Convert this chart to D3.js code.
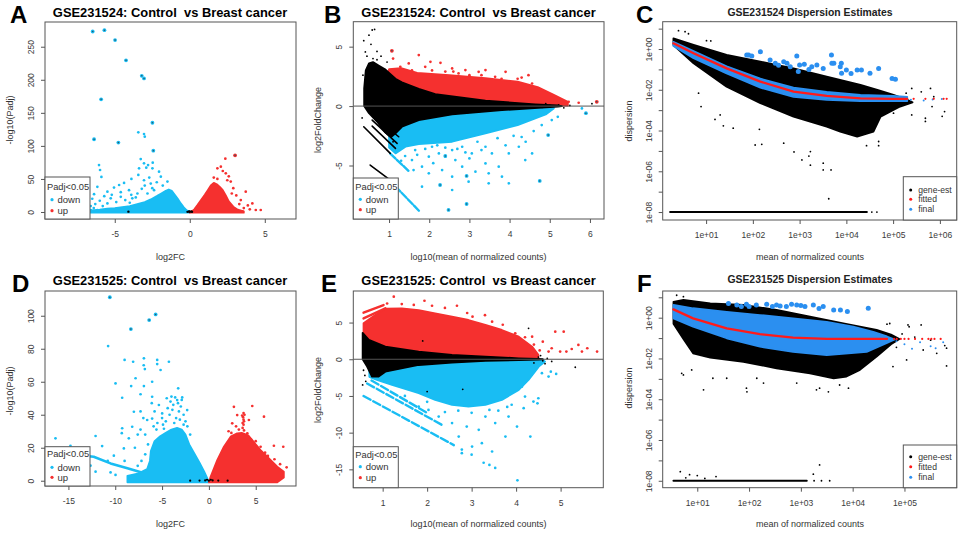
<!DOCTYPE html>
<html>
<head>
<meta charset="utf-8">
<script src="https://cdn.jsdelivr.net/npm/d3@7"></script>
<style>
  body { margin: 0; background: #fff; }
  svg text { font-family: "Liberation Sans", Arial, sans-serif; }
</style>
</head>
<body>
<div id="fig"></div>
<script>
// ---- A: volcano GSE231524 (log2FC, -log10 Padj) ----
var aDownCloud = [[-6.6,-1],[-6.6,2.5],[-6,3.5],[-5.5,5],[-5,6],[-4.5,7.5],[-4,9],[-3.5,12],[-3,15],[-2.6,19],[-2.2,24],[-1.9,28],[-1.6,32],[-1.4,34],[-1.2,32],[-1.0,26],[-0.8,20],[-0.6,13],[-0.4,7],[-0.2,2.5],[0,0.5],[0,-1]];
var aUpCloud = [[0,-1],[0.1,0.5],[0.3,4],[0.5,10],[0.75,18],[1.0,26],[1.2,33],[1.4,40],[1.6,44],[1.8,42],[2.0,38],[2.2,33],[2.4,25],[2.6,16],[2.9,8],[3.2,3.5],[3.6,1],[3.6,-1]];
var aDownPts = [[-6.05,71],[-5.98,63.5],[-3.27,80],[-3.05,73.6],[-2.78,71],[-2.47,74.6],[-3.38,66],[-2.9,67],[-2.49,66],[-3.43,56],[-2.05,61],[-3.05,48],[-1.93,53.4],[-1.49,46],[-3.89,50],[-4.38,44],[-6.16,38],[-5.89,53],[-6.38,27],[-5.49,30.7],[-5.05,37],[-4.71,40.8],[-4.05,33],[-5.49,13],[-5.27,20.7],[-6.16,3],[-6.6,3],[-4.6,23],[-3.83,20.7],[-3.49,28],[-2.6,43],[-2.38,33],[-2.82,28],[-6.5,20],[-6.3,12],[-5.8,9],[-6.0,17],[-5.2,26],[-4.9,15],[-4.3,18],[-4.0,14],[-3.6,22],[-3.2,35],[-3.0,40],[-2.7,52],[-2.2,45],[-1.8,40],[-4.6,30],[-5.7,24],[-3.9,26],[-2.5,36],[-6.6,9],[-6.4,6],[-3.43,120.5],[-3.05,118],[-3.0,114]];
var aDownTop = [[-6.47,273],[-5.69,275],[-4.98,260],[-4.25,229.5],[-3.2,206],[-3.05,202],[-5.91,170.5],[-2.49,135],[-6.38,110],[-4.76,105],[-2.43,92.7]];
var aUpPts = [[2.37,80.7],[2.07,68.5],[1.84,66],[2.4,58.5],[2.6,54],[1.84,50],[2.73,46],[3.73,30.7],[4.17,13],[4.73,3],[3.87,10],[3.5,1],[2.9,36],[2.5,48],[3.1,25],[3.4,18],[3.6,6],[4.0,4],[2.2,62],[1.6,52],[3.3,12],[2.8,28],[4.4,3]];
var aUpTop = [[3.02,85.7]];
var aNsPts = [[0,0.3],[-0.15,0.2],[0.15,0.2],[-0.05,0.8],[0.1,0.9],[-4.09,0.5]];
var aXTicks = [-5, 0, 5];
var aYTicks = [0, 50, 100, 150, 200, 250];

// ---- B: MA plot GSE231524 (log10 mean counts, log2FoldChange) ----
var bUpCloud = [[0.98,2.9],[1.0,3.1],[1.3,3.2],[1.7,2.8],[2.5,2.6],[3.4,2.35],[4.2,2.05],[4.7,1.6],[5.1,0.95],[5.45,0.35],[5.45,0.05],[1.0,0.05]];
var bDownCloud = [[1.0,-0.05],[5.1,-0.05],[5.1,-0.2],[4.9,-0.7],[4.2,-1.6],[3.4,-2.3],[2.57,-3.0],[1.74,-3.2],[1.41,-3.42],[1.16,-3.98],[1.0,-3.5]];
var bNsCloud = [[0.38,1.5],[0.42,3.0],[0.5,3.6],[0.6,3.7],[0.75,3.4],[0.9,3.1],[1.0,2.8],[1.16,2.3],[1.32,2.0],[1.74,1.45],[2.15,1.0],[3.4,0.45],[4.64,0.15],[5.2,0.05],[5.3,0],[5.2,-0.05],[4.81,-0.12],[3.81,-0.34],[2.57,-0.7],[1.74,-1.18],[1.32,-1.74],[1.16,-2.3],[1.05,-2.6],[0.9,-2.2],[0.7,-1.3],[0.5,-0.6],[0.38,0]];
var bNsStripes = [[[0.58,-0.76],[1.24,-2.58]],[[0.58,-1.18],[1.2,-3.14]],[[0.58,-1.68],[1.16,-3.56]],[[0.37,-1.74],[1.03,-3.98]],[[0.53,-4.96],[0.98,-6.1]]];
var bDownStripes = [[[1.03,-4.0],[1.5,-5.5]],[[1.0,-6.2],[1.77,-8.9]]];
var bDownPts = [[1.57,-4.54],[1.82,-5.1],[1.65,-3.7],[2.07,-3.42],[2.24,-3.98],[2.4,-4.26],[2.57,-3.7],[2.82,-3.42],[3.06,-3.98],[3.4,-3.42],[3.56,-3.98],[3.98,-3.98],[4.23,-3.42],[4.56,-3.98],[5.05,-1.18],[5.8,-0.2],[1.61,-5.38],[1.99,-5.66],[1.82,-6.78],[2.57,-5.94],[2.82,-5.1],[3.15,-5.52],[3.48,-5.66],[2.98,-6.36],[2.57,-7.06],[3.73,-5.1],[3.81,-5.94],[3.48,-6.5],[3.98,-6.5],[3.4,-4.82],[4.39,-4.54],[1.99,-4.26],[2.65,-4.54],[2.32,-5.38],[1.4,-4.2],[1.9,-3.6],[2.2,-3.3],[3.2,-3.0],[3.7,-2.7],[4.1,-2.5],[4.6,-2.1],[4.4,-3.0],[4.8,-1.6],[5.2,-0.9],[3.0,-4.4],[2.7,-3.6],[1.3,-4.6],[1.7,-4.1],[2.1,-4.8],[2.9,-3.9],[3.3,-3.7],[3.9,-3.3],[4.3,-2.6],[2.4,-3.5]];
var bDownTop = [[2.27,-6.64],[2.93,-8.24],[2.48,-8.74],[4.75,-6.3],[4.96,-2.44],[2.93,-5.88],[2.4,-4.2],[5.9,-0.6]];
var bUpPts = [[1.74,4.29],[2.03,3.72],[2.28,3.64],[2.57,3.17],[2.9,3.03],[3.23,2.88],[3.4,3.03],[3.9,2.88],[4.47,2.6],[1.49,3.59],[1.28,3.3],[2.73,2.75],[3.64,2.46],[4.56,1.9],[5.05,0.92],[5.22,0.64],[5.47,0.36],[5.72,0.28],[2.07,3.0],[1.57,3.0],[2.4,2.9],[3.0,2.6],[3.8,2.3],[4.2,2.3],[4.8,1.3],[1.1,4.0],[1.9,3.3],[2.6,2.9],[3.3,2.6],[4.3,2.4]];
var bUpTop = [[1.07,4.65],[6.17,0.36]];
var bNsPts = [[0.58,6.4],[0.64,6.45],[0.5,5.97],[0.37,5.5],[0.41,4.56],[0.55,5.2],[0.45,4.2],[0.7,4.6],[0.8,4.2],[0.6,4.0],[0.95,3.7],[0.7,3.9],[4.81,-0.1],[5.22,0.1],[5.0,0.05],[5.5,0.05],[4.9,0.2],[5.35,-0.15],[6.05,0.2],[0.35,2.6],[0.33,-1.0],[1.1,-3.0]];
var bXTicks = [1, 2, 3, 4, 5, 6];
var bYTicks = [-5, 0, 5];

// ---- C: dispersion GSE231524 (mean counts, dispersion) ----
var cGeneCloud = [[2.0,3.3],[5.4,1.58],[27.5,0.51],[145,0.24],[741,0.112],[3.8e3,0.044],[2.0e4,0.0174],[4.6e4,0.01],[1.02e5,5.6e-3],[2.0e5,3.2e-3],[2.6e5,2.4e-3],[1.41e5,1.5e-3],[5.4e4,4.8e-4],[3.8e4,8.9e-5],[1.7e4,5.0e-5],[7.4e3,8.9e-5],[3.8e3,1.55e-4],[741,4.8e-4],[145,2.2e-3],[27.5,0.014],[5.4,0.2],[2.0,1.58]];
var cGenePts = [[6.9,6.8e-3],[7.8,1.5e-3],[15.5,3.5e-4],[20,5.8e-4],[23.4,1.7e-4],[38,1.3e-4],[112,1.95e-5],[138,1.15e-4],[155,2.1e-5],[457,2.4e-5],[759,8.9e-6],[1.12e3,3.6e-6],[1.7e3,9.3e-6],[1.58e3,5.6e-6],[1.7e3,2.0e-6],[3.2e3,2.5e-6],[3.2e3,1.17e-6],[4.7e3,1.17e-6],[4.2e3,4.5e-8],[2.57,7.9],[3.55,7.1],[4.2,5.6],[10.2,2.57],[12.6,2.5],[2.5e5,0.0117],[6.3e5,0.0117],[7.4e5,4.6e-3],[6.8e5,1.5e-3],[2.5e5,5.8e-4],[4.9e5,4.0e-4],[4.9e5,2.8e-4],[1.26e6,8.5e-4],[1.12e6,5e-4],[1.02e5,7.1e-4],[4.9e4,2.9e-5],[4.9e4,1.8e-5],[2.7e4,1.8e-5],[9.5e4,1.0e-3],[1.8e5,3.2e-3],[1.9e5,6.8e-3],[4e5,7.9e-3]];
var cFinalBand = [[2.0,2.24],[5.4,0.79],[27.5,0.141],[145,0.035],[741,0.0126],[3.8e3,7.9e-3],[2.0e4,5.6e-3],[1.0e5,5.0e-3],[2.0e5,4.5e-3],[2.0e5,2.8e-3],[2.0e4,2.8e-3],[3.8e3,3.2e-3],[741,4.5e-3],[145,0.0126],[27.5,0.063],[5.4,0.355],[2.0,1.41]];
var cFinalOut = [[81,0.51],[145,0.74],[95,0.45],[234,0.29],[302,0.2],[457,0.24],[871,0.46],[1.0e3,0.166],[1.26e3,0.178],[1.82e3,0.135],[2.34e3,0.166],[4.8e3,0.51],[5.4e3,0.2],[7.4e3,0.135],[7.9e3,0.065],[1.0e4,0.093],[1.7e4,0.093],[2.1e4,0.093],[3.2e4,0.065],[4.9e4,0.112],[9.5e4,0.036],[1.12e5,0.033],[631,0.135],[3.2e3,0.112],[355,0.158],[1.58e3,0.1],[1.26e4,0.063],[74,0.51],[537,0.2],[938,0.078],[4.9e3,0.2],[7.8e3,0.2]];
var cFinalSmall = [[2.4e5,3.2e-3],[4.5e5,3.0e-3],[7.0e5,3.3e-3],[1.1e6,3.5e-3],[1.6e5,4.2e-3]];
var cFitted = [[2.0,1.9],[5.4,0.62],[27.5,0.112],[145,0.025],[741,8.1e-3],[3.8e3,5.0e-3],[2.0e4,3.8e-3],[1.02e5,3.6e-3],[2.0e5,3.6e-3]];
var cFittedDots = [[2.75e5,3.6e-3],[4.9e5,3.6e-3],[7.4e5,3.6e-3],[1.2e6,3.6e-3],[1.4e6,3.6e-3]];
var cZeroRow = [[1.7,1e-8],[2.75e4,1e-8]];
var cZeroPts = [[3.5e4,1e-8],[4.5e4,1e-8]];

// ---- D: volcano GSE231525 ----
var dDownCloud = [[-8.7,-1],[-8.7,3],[-7.5,4.5],[-6.6,7],[-6.3,12],[-6.2,18],[-5.8,24],[-5.2,27],[-4.6,29],[-4.0,31],[-3.4,32],[-2.9,31],[-2.5,28],[-2.1,22],[-1.6,17],[-1.0,11],[-0.5,5.5],[-0.18,1.6],[0,-1]];
var dDownTail = [[-16.5,17],[-14,15.5],[-12.3,14.5],[-10.5,10.5],[-8.7,7.5],[-6.9,4.5],[-6,3]];
var dDownPts = [[-16.38,25.7],[-14.78,21.2],[-12.1,27.1],[-11.4,21],[-10.15,15.2],[-9.97,3.5],[-12.1,5.5],[-12.64,9.1],[-9.26,31.8],[-9.3,28.8],[-9.08,19.6],[-9.97,59],[-10.76,81.6],[-9.0,73.2],[-8.09,72.1],[-6.94,74.2],[-6.96,70],[-6.84,67.7],[-5.52,73.2],[-5.52,70.7],[-4.27,72.1],[-5.16,67.1],[-7.83,62.1],[-6.94,57.4],[-6.06,60],[-8.3,57.4],[-9.26,50.3],[-7.3,52.4],[-6.06,50.9],[-6.1,47],[-8.01,41.8],[-7.3,42],[-3.28,56],[-3.39,48.9],[-2.85,50.5],[-2.32,42.8],[-8.55,25.7],[-8.19,32.7],[-7.3,31],[-6.59,36.8],[-6.06,37.7],[-5.34,45.9],[-4.99,40.8],[-4.5,50],[-4.0,51],[-3.8,46],[-5.8,42],[-7.0,38],[-7.6,28],[-6.8,28],[-7.9,20],[-10.8,12],[-10.5,5],[-9.0,12],[-5.9,33],[-5.5,35],[-5.0,38],[-4.6,36],[-4.2,40],[-3.9,43],[-3.5,38],[-3.2,42],[-3.0,45],[-2.7,40],[-2.5,36],[-4.8,31.5],[-3.7,35],[-4.4,44],[-3.3,47],[-2.9,49],[-4.1,48],[-5.6,31],[-2.3,33],[-2.0,28],[-6.5,22],[-6.8,16],[-7.2,12],[-7.6,9],[-3.6,50.5],[-2.7,34],[-4.9,34],[-3.1,37]];
var dDownTop = [[-10.58,111.2],[-8.33,91.9],[-6.38,97.4],[-5.69,100.8]];
var dUpCloud = [[0,-1],[0.18,2.4],[0.89,12.5],[1.6,20.6],[2.32,26.7],[3.02,28.7],[3.5,29],[4.2,27.5],[5.0,22],[5.52,18.6],[6.6,12.5],[7.3,8.5],[8.0,5.5],[8.0,2],[7.3,-1]];
var dUpPts = [[3.7,41],[3.65,38.5],[3.75,36],[3.7,34],[3.6,32],[3.75,30.5],[3.55,39.5],[3.8,40],[3.7,37],[3.6,35],[2.67,44.8],[4.63,45.3],[5.88,38.8],[3.02,39.8],[2.49,34.8],[2.1,30],[6.94,21.2],[7.94,20.6],[8.3,8.1],[5.52,20.6],[6.0,17],[4.27,36.8],[4.1,28.7],[2.9,33],[4.5,25],[6.3,15],[7.0,13],[7.6,10],[3.2,31],[2.4,29],[5.0,24]];
var dNsPts = [[0,0],[-0.4,0.2],[0.4,0.2],[-1,0.1],[1,0.1],[-2,0],[2,0],[-0.2,0.6],[0.2,0.6]];
var dXTicks = [-15, -10, -5, 0, 5];
var dYTicks = [0, 20, 40, 60, 80, 100];

// ---- E: MA plot GSE231525 ----
var eUpCloud = [[0.57,0],[0.57,4.9],[0.8,5.9],[1.06,6.9],[1.43,6.94],[1.81,6.7],[2.18,6.26],[2.56,5.8],[2.93,5.35],[3.31,4.67],[3.68,3.99],[4.06,3.08],[4.36,1.72],[4.5,0.6],[4.5,0]];
var eDownCloud = [[0.7,-0.05],[4.6,-0.05],[4.65,-0.32],[4.51,-1.0],[4.28,-2.82],[4.06,-4.18],[3.68,-5.54],[3.31,-6.22],[2.93,-6.45],[2.56,-6.22],[2.18,-5.54],[1.81,-4.63],[1.21,-3.5],[0.87,-2.82],[0.7,-2.4]];
var eNsCloud = [[0.55,3.6],[0.69,2.63],[1.06,1.72],[1.81,1.04],[2.56,0.59],[3.31,0.36],[4.06,0.13],[4.5,0.05],[4.6,0],[4.5,-0.05],[4.06,-0.1],[3.31,-0.23],[2.56,-0.46],[1.81,-0.78],[1.06,-1.69],[0.91,-2.36],[0.76,-2.36],[0.65,-1.0],[0.55,0]];
var eUpStripes = [[[0.57,6.34],[1.02,7.39]],[[0.57,5.57],[1.06,6.94]]];
var eDownStripes = [[[0.57,-5.0],[2.6,-11.7]],[[0.65,-3.3],[2.35,-9.0]],[[0.75,-2.9],[2.0,-7.3]]];
var eUpPts = [[1.25,8.52],[1.94,7.97],[2.11,7.29],[2.67,7.29],[1.43,7.52],[3.02,5.8],[3.46,5.12],[3.98,3.54],[4.36,3.08],[4.88,3.76],[5.07,3.76],[4.8,1.5],[4.99,1.04],[5.4,1.95],[5.48,1.04],[5.82,1.04],[5.13,1.04],[4.73,1.04],[4.53,1.2],[5.6,1.5],[1.1,7.6],[2.4,7.0],[3.3,6.0],[3.7,4.7],[4.2,3.0],[4.6,2.4],[1.7,7.4],[2.9,6.3],[4.4,2.0],[5.25,1.4]];
var eDownPts = [[4.02,-2.82],[4.13,-3.73],[4.2,-5.09],[4.17,-6.67],[4.39,-5.77],[4.5,-5.31],[4.48,-6.0],[4.58,-1.9],[4.73,-2.36],[4.78,-1.69],[4.32,-10.53],[4.02,-9.17],[3.76,-10.53],[3.23,-11.43],[3.01,-11.89],[2.78,-12.79],[3.46,-12.57],[4.03,-16.5],[3.31,-7.81],[3.53,-8.7],[3.83,-7.81],[3.16,-9.62],[2.89,-9.17],[2.71,-10.53],[2.56,-8.7],[2.26,-7.81],[2.03,-6.9],[1.81,-6.45],[3.0,-7.3],[3.6,-7.0],[2.4,-7.2],[3.9,-6.2],[4.9,-2.0],[1.5,-5.0],[2.0,-5.8],[2.7,-7.0],[3.4,-6.9],[3.8,-6.5],[2.78,-12.3],[3.0,-13.0],[3.27,-14.1],[3.4,-14.4],[3.53,-14.8]];
var eNsPts = [[5.33,-1.09],[4.28,4.22],[4.5,0.3],[4.6,-0.2],[4.7,0.1],[4.8,-0.3],[4.4,-0.5],[0.57,-1.5],[0.6,-2.2],[0.62,-3.0],[2.0,-4.4],[2.8,-4.1],[1.9,2.5],[4.55,0.5],[4.65,-0.6],[0.55,-3.5]];
var eXTicks = [1, 2, 3, 4, 5];
var eYTicks = [-15, -10, -5, 0, 5];

// ---- F: dispersion GSE231525 ----
var fGeneCloud = [[3.47,6.0],[5.4,7.4],[17.8,5.0],[78,4.2],[339,2.4],[1.5e3,1.12],[6.6e3,0.52],[1.38e4,0.36],[2.9e4,0.25],[5.5e4,0.15],[8.0e4,0.09],[5.5e4,0.05],[2.9e4,0.0123],[1.38e4,2.75e-3],[7.6e3,1.3e-3],[4.3e3,1.07e-3],[1.5e3,1.86e-3],[339,3.3e-3],[78,6.9e-3],[17.8,0.011],[8.3,0.018],[5.4,0.09],[3.47,0.5]];
var fGenePts = [[5.4,10.7],[5.4,1.55e-3],[7.8,2.75e-3],[20,1.07e-3],[37,1.07e-3],[141,1.07e-3],[190,6.2e-4],[89,3.5e-4],[91,2.3e-4],[832,6.2e-4],[2.0e3,2.9e-4],[5.6e3,5.0e-4],[8.3e3,3.5e-4],[6.0e4,4.0e-3],[1.1e5,8.5e-3],[2.3e5,0.026],[4.2e5,0.0178],[6.5e5,4.3e-3],[6.0e5,0.043],[1.17e5,0.44],[2.1e5,0.44],[5.2e4,0.52],[13.2,2.9e-4],[5.0,1.86e-3],[2.3e3,3.5e-4],[3.4e3,2.3e-4],[4.6e4,0.48],[1.23e5,0.36],[6.5e5,0.032],[3.2e5,0.079],[1.58e5,0.112],[4.0,12.6],[9.0e4,0.16],[7.0e4,0.035]];
var fFinalBand = [[3.47,4.2],[8.3,2.9],[37,1.95],[162,1.35],[708,0.93],[3.16e3,0.63],[1.02e4,0.36],[2.5e4,0.2],[4.6e4,0.12],[6.5e4,0.085],[4.6e4,0.058],[1.86e4,0.021],[3.16e3,0.0148],[708,0.021],[162,0.038],[37,0.098],[8.3,0.36],[3.47,0.93]];
var fFinalOut = [[40,5.0],[58,4.2],[89,4.6],[138,4.2],[219,4.6],[339,4.2],[525,3.5],[832,4.2],[1.2e3,3.5],[1.74e3,4.2],[2.7e3,3.5],[4.3e3,2.4],[5.8e3,2.4],[2e4,2.9],[100,3.55],[282,3.55],[398,3.8],[1e3,4.0],[2.24e3,2.8],[7.9e3,2.0],[71,3.55],[661,4.6]];
var fFinalSmall = [[1e5,0.05],[2e5,0.063],[3.2e5,0.04],[4e5,0.032],[5.6e5,0.063],[7e4,0.07],[1.4e5,0.03]];
var fFitted = [[3.47,2.57],[8.3,0.93],[37,0.30],[162,0.155],[708,0.105],[3.16e3,0.091],[1.38e4,0.091],[4.6e4,0.091]];
var fFittedDots = [[6.3e4,0.091],[7.1e4,0.091],[8.5e4,0.091],[1.0e5,0.091],[1.2e5,0.091],[1.6e5,0.091],[2.2e5,0.091],[2.9e5,0.091],[3.3e5,0.091],[3.8e5,0.091],[5.0e5,0.091]];
var fZeroRow = [[3.47,1e-8],[1.3e3,1e-8]];
var fZeroPts = [[1.8e3,1e-8],[2.5e3,1e-8],[3.6e3,1e-8],[4.7,2.8e-8],[7.1,2e-8],[10,1.8e-8],[23,1.6e-8],[2.3e3,6e-8],[1.74e3,2.1e-8],[6,1.4e-8],[14,1.3e-8]];

// log axis ticks for the dispersion plots
var dispYTicks = [1e1, 1e0, 1e-1, 1e-2, 1e-3, 1e-4, 1e-5, 1e-6, 1e-7, 1e-8];
var dispYLabels = ["", "1e+00", "", "1e-02", "", "1e-04", "", "1e-06", "", "1e-08"];
var cXTicks = [1e1, 1e2, 1e3, 1e4, 1e5, 1e6];
var cXLabels = ["1e+01", "1e+02", "1e+03", "1e+04", "1e+05", "1e+06"];
var fXTicks = [1e1, 1e2, 1e3, 1e4, 1e5];
var fXLabels = ["1e+01", "1e+02", "1e+03", "1e+04", "1e+05"];

// colours
var BLUE = "#19bdf3", RED = "#f5302f", FINAL = "#2b8ff0", FIT = "#ff1a1a";

var svg = d3.select("#fig").append("svg")
  .attr("width", 968)
  .attr("height", 533);

// Step 1: panel frames + scales
function makePanel(id, box, x, y) {
  x.range([box[0], box[2]]);
  y.range([box[3], box[1]]);
  var g = svg.append("g");
  g.append("clipPath").attr("id", id).append("rect")
    .attr("x", box[0]).attr("y", box[1])
    .attr("width", box[2] - box[0]).attr("height", box[3] - box[1]);
  var plot = g.append("g").attr("clip-path", "url(#" + id + ")");
  return { g: g, plot: plot, x: x, y: y, box: box };
}

function path(p) {
  return d3.line().x(d => p.x(d[0])).y(d => p.y(d[1]));
}

function cloud(p, data, color) {
  p.plot.append("path")
    .attr("d", path(p)(data) + "Z")
    .attr("fill", color)
    .attr("stroke", color)
    .attr("stroke-width", 1.8)
    .attr("stroke-linejoin", "round");
}

function stripe(p, data, color, w, dash) {
  p.plot.append("path")
    .attr("d", path(p)(data))
    .attr("fill", "none")
    .attr("stroke", color)
    .attr("stroke-width", w)
    .attr("stroke-linecap", "round")
    .attr("stroke-linejoin", "round")
    .attr("stroke-dasharray", dash || null);
}

function dots(p, data, r, color) {
  p.plot.selectAll(null)
    .data(data)
    .enter()
    .append("circle")
    .attr("cx", d => p.x(d[0]))
    .attr("cy", d => p.y(d[1]))
    .attr("r", r)
    .attr("fill", color);
}

// labelled genes: coloured dot with a dark core
function haloDots(p, data, color) {
  dots(p, data, 1.9, color);
  dots(p, data, 0.8, "#2d5566");
}

function frame(p) {
  p.g.append("rect")
    .attr("x", p.box[0]).attr("y", p.box[1])
    .attr("width", p.box[2] - p.box[0]).attr("height", p.box[3] - p.box[1])
    .attr("fill", "none")
    .attr("stroke", "#555")
    .attr("stroke-width", 1);
}

// Step 2: R style axes (ticks outside, y labels rotated)
function axes(p, xTicks, xFmt, yTicks, yFmt, yOff) {
  var xa = p.g.append("g")
    .attr("transform", `translate(0, ${p.box[3]})`)
    .call(d3.axisBottom(p.x).tickValues(xTicks).tickFormat(xFmt).tickSize(4).tickPadding(8));
  var ya = p.g.append("g")
    .attr("transform", `translate(${p.box[0]}, 0)`)
    .call(d3.axisLeft(p.y).tickValues(yTicks).tickFormat(yFmt).tickSize(4));
  [xa, ya].forEach(function(a) {
    a.select(".domain").remove();
    a.attr("font-size", 8.5);
    a.selectAll("line").attr("stroke", "#555");
    a.selectAll("text").attr("fill", "#3a3a3a");
  });
  ya.selectAll("text")
    .attr("transform", "rotate(-90)")
    .attr("x", 0)
    .attr("y", -yOff)
    .attr("dy", 0)
    .attr("text-anchor", "middle");
}

function text(x, y, str, size, weight, rotate, anchor, fill) {
  svg.append("text")
    .attr("transform", `translate(${x}, ${y})` + (rotate ? " rotate(-90)" : ""))
    .attr("text-anchor", anchor || "middle")
    .attr("font-size", size)
    .attr("font-weight", weight || "normal")
    .attr("fill", fill || "#333")
    .text(str);
}

function letter(x, y, str) {
  svg.append("text")
    .attr("x", x).attr("y", y)
    .attr("font-size", 24)
    .attr("font-weight", 700)
    .attr("fill", "#000")
    .text(str);
}

function padjLegend(b, headY, rows) {
  svg.append("rect")
    .attr("x", b[0]).attr("y", b[1])
    .attr("width", b[2] - b[0]).attr("height", b[3] - b[1])
    .attr("fill", "#fff").attr("stroke", "#555");
  text(b[0] + 2, headY, "Padj<0.05", 9.3, "normal", false, "start", "#333");
  [["down", BLUE], ["up", RED]].forEach(function(r, i) {
    svg.append("circle").attr("cx", b[0] + 7).attr("cy", rows[i]).attr("r", 1.6).attr("fill", r[1]);
    text(b[0] + 12.5, rows[i] + 3.4, r[0], 9.5, "normal", false, "start", "#333");
  });
}

function dispLegend(b, rows) {
  svg.append("rect")
    .attr("x", b[0]).attr("y", b[1])
    .attr("width", b[2] - b[0]).attr("height", b[3] - b[1])
    .attr("fill", "#fff").attr("stroke", "#555");
  [["gene-est", "#000"], ["fitted", FIT], ["final", FINAL]].forEach(function(r, i) {
    svg.append("circle").attr("cx", b[0] + 7.4).attr("cy", rows[i]).attr("r", 1.5).attr("fill", r[1]);
    text(b[0] + 15, rows[i] + 3.1, r[0], 8.6, "normal", false, "start", "#333");
  });
}

var num = d => String(d);
var TITLE = "GSE231524: Control\u00a0 vs Breast cancer";
var TITLE2 = "GSE231525: Control\u00a0 vs Breast cancer";

// Step 3: panel A
var pA = makePanel("clipA", [45, 22, 296, 219], d3.scaleLinear().domain([-9.65, 7.08]), d3.scaleLinear().domain([-10.6, 287.4]));
cloud(pA, aDownCloud, BLUE);
cloud(pA, aUpCloud, RED);
dots(pA, aDownPts, 1.35, BLUE);
dots(pA, aUpPts, 1.35, RED);
haloDots(pA, aDownTop, BLUE);
haloDots(pA, aUpTop, RED);
dots(pA, aNsPts, 1.2, "#000");
frame(pA);
axes(pA, aXTicks, num, aYTicks, num, 11.5);
padjLegend([45, 177, 90, 219], 189.5, [199.7, 210.7]);

// panel B
var pB = makePanel("clipB", [353.3, 21.7, 604, 219], d3.scaleLinear().domain([0.11, 6.35]), d3.scaleLinear().domain([-9.5, 7.1]));
cloud(pB, bUpCloud, RED);
cloud(pB, bDownCloud, BLUE);
bDownStripes.forEach(s => stripe(pB, s, BLUE, 2.4, "7 2"));
dots(pB, bDownPts, 1.35, BLUE);
dots(pB, bUpPts, 1.35, RED);
haloDots(pB, bDownTop, BLUE);
haloDots(pB, bUpTop, RED);
cloud(pB, bNsCloud, "#000");
bNsStripes.forEach(s => stripe(pB, s, "#000", 1.6));
dots(pB, bNsPts, 0.9, "#000");
pB.plot.append("line")
  .attr("x1", pB.box[0]).attr("x2", pB.box[2])
  .attr("y1", pB.y(0)).attr("y2", pB.y(0))
  .attr("stroke", "#555").attr("stroke-width", 1);
frame(pB);
axes(pB, bXTicks, num, bYTicks, num, 11);
padjLegend([353.3, 178, 398.3, 219], 190, [199.3, 209.7]);

// panel C
var pC = makePanel("clipC", [662.7, 21.7, 956.7, 220], d3.scaleLog().domain([1.18, 2.29e6]), d3.scaleLog().domain([4.07e-9, 21.9]));
cloud(pC, cGeneCloud, "#000");
dots(pC, cGenePts, 0.9, "#000");
cloud(pC, cFinalBand, FINAL);
dots(pC, cFinalSmall, 1.0, FINAL);
dots(pC, cFinalOut, 2.5, FINAL);
stripe(pC, cFitted, FIT, 2.3);
dots(pC, cFittedDots, 1.1, FIT);
stripe(pC, cZeroRow, "#000", 2);
dots(pC, cZeroPts, 0.9, "#000");
frame(pC);
axes(pC, cXTicks, (d, i) => cXLabels[i], dispYTicks, (d, i) => dispYLabels[i], 10.5);
dispLegend([903.3, 176.7, 956.7, 220], [190, 199.3, 209.3]);

// panel D
var pD = makePanel("clipD", [45, 291, 296, 486], d3.scaleLinear().domain([-17.5, 9.3]), d3.scaleLinear().domain([-3.2, 115]));
stripe(pD, dDownTail, BLUE, 2.6);
cloud(pD, dDownCloud, BLUE);
cloud(pD, dUpCloud, RED);
dots(pD, dDownPts, 1.35, BLUE);
dots(pD, dUpPts, 1.35, RED);
haloDots(pD, dDownTop, BLUE);
dots(pD, dNsPts, 1.1, "#000");
frame(pD);
axes(pD, dXTicks, num, dYTicks, num, 11.5);
padjLegend([45, 446.7, 90, 486], 456.8, [467.3, 477.3]);

// panel E
var pE = makePanel("clipE", [353.3, 291, 603.3, 487.7], d3.scaleLinear().domain([0.34, 5.96]), d3.scaleLinear().domain([-17.5, 9.3]));
eDownStripes.forEach(s => stripe(pE, s, BLUE, 2.4, "8 3"));
cloud(pE, eUpCloud, RED);
cloud(pE, eDownCloud, BLUE);
eUpStripes.forEach(s => stripe(pE, s, RED, 2.4));
dots(pE, eUpPts, 1.35, RED);
dots(pE, eDownPts, 1.35, BLUE);
cloud(pE, eNsCloud, "#000");
dots(pE, eNsPts, 0.9, "#000");
pE.plot.append("line")
  .attr("x1", pE.box[0]).attr("x2", pE.box[2])
  .attr("y1", pE.y(0)).attr("y2", pE.y(0))
  .attr("stroke", "#555").attr("stroke-width", 1);
frame(pE);
axes(pE, eXTicks, num, eYTicks, num, 11);
padjLegend([353.3, 446.7, 398.3, 487.7], 457.8, [466.7, 477.7]);

// panel F
var pF = makePanel("clipF", [662.7, 291, 956.7, 487.7], d3.scaleLog().domain([2.15, 1.02e6]), d3.scaleLog().domain([4.57e-9, 20.4]));
cloud(pF, fGeneCloud, "#000");
dots(pF, fGenePts, 0.9, "#000");
cloud(pF, fFinalBand, FINAL);
dots(pF, fFinalSmall, 1.0, FINAL);
dots(pF, fFinalOut, 2.5, FINAL);
stripe(pF, fFitted, FIT, 2.3);
dots(pF, fFittedDots, 1.1, FIT);
stripe(pF, fZeroRow, "#000", 2);
dots(pF, fZeroPts, 0.9, "#000");
frame(pF);
axes(pF, fXTicks, (d, i) => fXLabels[i], dispYTicks, (d, i) => dispYLabels[i], 10.5);
dispLegend([903.3, 445, 956.7, 487.7], [456.7, 466.7, 477.3]);

// Step 4: titles, axis labels, panel letters
text(170, 16.8, TITLE, 12.9, "bold", false, "middle", "#000");
text(478.5, 16.8, TITLE, 12.9, "bold", false, "middle", "#000");
text(810, 16, "GSE231524 Dispersion Estimates", 10.4, "bold", false, "middle", "#222");
text(170, 284.5, TITLE2, 12.9, "bold", false, "middle", "#000");
text(478.5, 284.5, TITLE2, 12.9, "bold", false, "middle", "#000");
text(810, 282.5, "GSE231525 Dispersion Estimates", 10.4, "bold", false, "middle", "#222");

text(170.5, 260, "log2FC", 9);
text(478.5, 260, "log10(mean of normalized counts)", 9);
text(810, 259.5, "mean of normalized counts", 9);
text(170.5, 526.5, "log2FC", 9);
text(478.5, 526.5, "log10(mean of normalized counts)", 9);
text(810, 526.5, "mean of normalized counts", 9);

text(13, 120, "-log10(Padj)", 9, "normal", true);
text(321, 120, "log2FoldChange", 9, "normal", true);
text(632, 121, "dispersion", 9, "normal", true);
text(13, 391, "-log10(Padj)", 9, "normal", true);
text(321, 390, "log2FoldChange", 9, "normal", true);
text(632, 388, "dispersion", 9, "normal", true);

letter(10, 23, "A");
letter(324, 23, "B");
letter(636, 23, "C");
letter(12, 292, "D");
letter(321, 292, "E");
letter(637, 292, "F");
</script>
</body>
</html>
